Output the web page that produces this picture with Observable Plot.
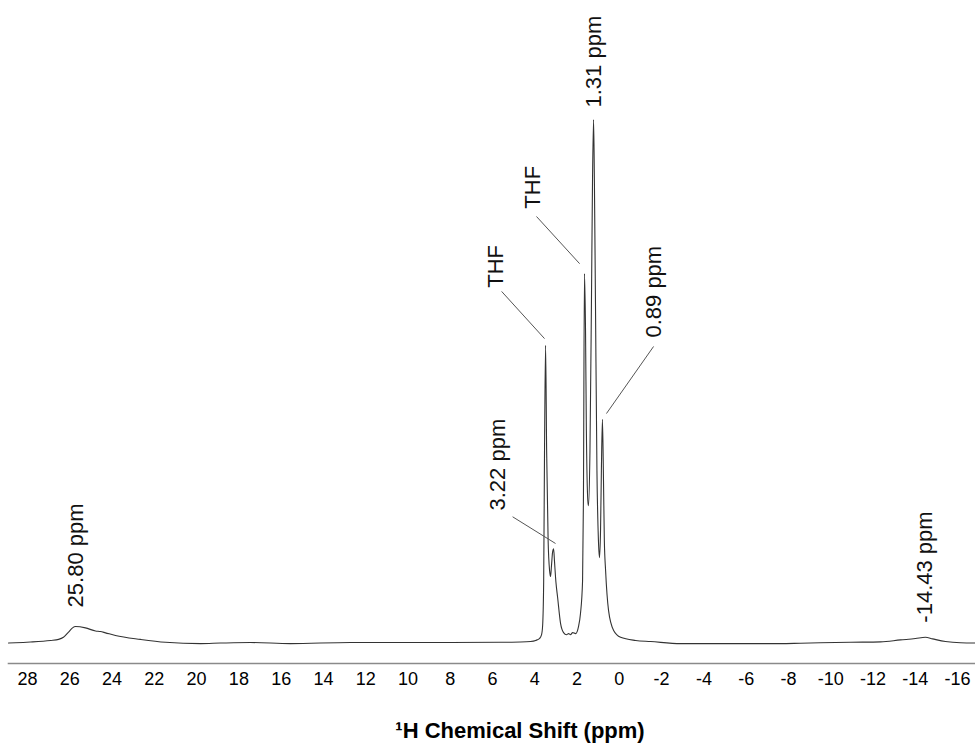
<!DOCTYPE html>
<html>
<head>
<meta charset="utf-8">
<script src="https://cdn.jsdelivr.net/npm/d3@7"></script>
<script src="https://cdn.jsdelivr.net/npm/@observablehq/plot@0.6"></script>
<style>
  html, body { margin: 0; padding: 0; background: #fff; }
</style>
</head>
<body>
<div id="chart"></div>
<script>
// Spectrum trace (chemical shift in ppm, relative intensity)
const shiftPpm = [28.9, 28.57, 27.86, 26.91, 26.53, 26.30, 26.06, 25.87, 25.73, 25.26, 24.78, 24.55, 24.31, 23.84, 22.65, 21.47, 19.81, 18.87, 17.45, 15.56, 12.72, 7.99, 5.62, 4.68, 4.20, 3.96, 3.77, 3.68, 3.63, 3.58, 3.54, 3.49, 3.44, 3.37, 3.30, 3.255, 3.21, 3.16, 3.11, 3.07, 3.00, 2.92, 2.78, 2.64, 2.50, 2.40, 2.31, 2.21, 2.07, 1.93, 1.84, 1.74, 1.70, 1.65, 1.60, 1.56, 1.49, 1.46, 1.39, 1.32, 1.27, 1.22, 1.18, 1.13, 1.06, 0.99, 0.94, 0.89, 0.85, 0.80, 0.75, 0.71, 0.65, 0.51, 0.27, -0.06, -0.77, -1.48, -2.90, -7.63, -8.57, -10.94, -12.36, -13.30, -14.01, -14.48, -14.82, -15.43, -16.14, -16.85];
const intensity = [-0.1, -0.05, 0.1, 0.4, 0.6, 1.0, 2.0, 2.8, 3.05, 2.8, 2.2, 2.1, 1.85, 1.35, 0.6, 0.05, -0.2, -0.1, 0, -0.2, 0, 0, 0.05, 0.1, 0.2, 0.4, 0.8, 1.5, 3.2, 11.8, 36.6, 56.7, 36.6, 19.5, 13.7, 12.6, 14.7, 17.2, 17.9, 15.6, 11.5, 8.6, 3.6, 1.9, 1.5, 1.7, 1.5, 1.9, 1.7, 3.1, 5.5, 11.8, 27, 70.4, 59.5, 40.5, 27, 26.1, 36.6, 65, 88, 99.8, 88, 65, 32.8, 19.5, 16.2, 21.4, 32.8, 42.6, 30.9, 19.5, 13.7, 6.1, 2.3, 1.0, 0.4, 0.2, -0.2, -0.2, -0.13, 0.06, 0.13, 0.5, 0.76, 1.0, 0.7, 0.2, -0.05, -0.1];

// Axis ticks
const xTicks = [28, 26, 24, 22, 20, 18, 16, 14, 12, 10, 8, 6, 4, 2, 0, -2, -4, -6, -8, -10, -12, -14, -16];
const xTitle = "\u00B9H Chemical Shift (ppm)";

// Peak annotations (label, anchor shift, anchor intensity)
const labelText = ["1.31 ppm", "THF", "THF", "0.89 ppm", "3.22 ppm", "25.80 ppm", "-14.43 ppm"];
const labelPpm = [1.22, 4.11, 5.86, -1.64, 5.72, 25.73, -14.44];
const labelInt = [102.1, 82.8, 67.7, 58.2, 25.2, 6.7, 3.8];

// Leader lines (from label to peak)
const leadFromPpm = [3.92, 5.57, -1.62, 5.05];
const leadFromInt = [81.3, 67.0, 56.5, 24.0];
const leadToPpm = [1.88, 3.54, 0.61, 3.02];
const leadToInt = [72.3, 58.0, 43.7, 18.9];

const spectrum = shiftPpm.map((p, i) => ({ppm: p, value: intensity[i]}));
const labels = labelText.map((t, i) => ({text: t, ppm: labelPpm[i], value: labelInt[i]}));
const leaders = leadFromPpm.map((p, i) => ({x1: p, y1: leadFromInt[i], x2: leadToPpm[i], y2: leadToInt[i]}));

const font = "'Liberation Sans', Arial, Helvetica, sans-serif";

const chart = Plot.plot({
  width: 975,
  height: 748,
  marginLeft: 8,
  marginRight: 0,
  marginTop: 118,
  marginBottom: 85,
  style: {fontFamily: font, background: "#fff", color: "#000"},
  x: {domain: [28.9, -16.85]},
  y: {domain: [-4, 100], axis: null},
  marks: [
    Plot.frame({anchor: "bottom", stroke: "#8a8a8a", strokeWidth: 1.6}),
    Plot.axisX({ticks: xTicks, tickSize: 0, tickPadding: 9, fontSize: 18, tickFormat: d => String(d), label: null}),
    Plot.line(spectrum, {x: "ppm", y: "value", stroke: "#333", strokeWidth: 1.1, curve: "monotone-x"}),
    Plot.link(leaders, {x1: "x1", y1: "y1", x2: "x2", y2: "y2", stroke: "#555", strokeWidth: 1}),
    Plot.text(labels, {x: "ppm", y: "value", text: "text", rotate: -90, textAnchor: "start", lineAnchor: "middle", fontSize: 22, fill: "#111"}),
    Plot.text([xTitle], {frameAnchor: "bottom", text: d => d, dx: 28, dy: 67, lineAnchor: "middle", fontSize: 22, fontWeight: "bold", fill: "#000"})
  ]
});
document.getElementById("chart").appendChild(chart);
</script>
</body>
</html>
